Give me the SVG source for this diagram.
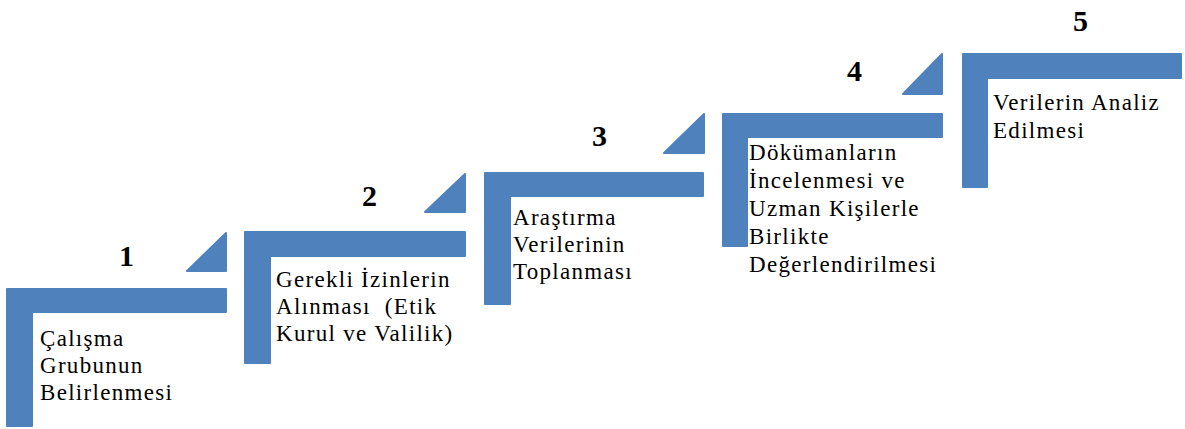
<svg xmlns="http://www.w3.org/2000/svg" width="1185" height="429" viewBox="0 0 1185 429">
<style>
.shape{fill:#4F81BD;stroke:#4F81BD;stroke-width:2;stroke-linejoin:round}
text{font-family:'Liberation Serif','Times New Roman',serif;fill:#000}
.num{font-weight:bold;font-size:30px;text-anchor:middle;letter-spacing:1px}
.lbl{font-size:23px;white-space:pre;letter-spacing:1.3px}
</style>
<rect width="1185" height="429" fill="#fff"/>
<g id="step1">
<path class="shape" d="M7,289 H226 V312 H32 V426 H7 Z"/>
<path class="shape" d="M187,271 L226,233 V271 Z"/>
<text class="num" x="127" y="266">1</text>
<text class="lbl"><tspan x="40" y="346">Çalışma</tspan><tspan x="40" y="373">Grubunun</tspan><tspan x="40" y="400">Belirlenmesi</tspan></text>
</g>
<g id="step2">
<path class="shape" d="M245,232 H465 V256 H270 V363 H245 Z"/>
<path class="shape" d="M425,212 L465,174 V212 Z"/>
<text class="num" x="370" y="206">2</text>
<text class="lbl"><tspan x="276" y="287">Gerekli İzinlerin</tspan><tspan x="276" y="314">Alınması  (Etik</tspan><tspan x="276" y="341">Kurul ve Valilik)</tspan></text>
</g>
<g id="step3">
<path class="shape" d="M485,173 H703 V196 H510 V304 H485 Z"/>
<path class="shape" d="M664,153 L704,114 V153 Z"/>
<text class="num" x="600" y="146">3</text>
<text class="lbl"><tspan x="513" y="225">Araştırma</tspan><tspan x="513" y="252">Verilerinin</tspan><tspan x="513" y="279">Toplanması</tspan></text>
</g>
<g id="step4">
<path class="shape" d="M723,114 H942 V137 H747 V246 H723 Z"/>
<path class="shape" d="M903,94 L942,54 V94 Z"/>
<text class="num" x="855" y="81">4</text>
<text class="lbl"><tspan x="749" y="160">Dökümanların</tspan><tspan x="749" y="188">İncelenmesi ve</tspan><tspan x="749" y="216">Uzman Kişilerle</tspan><tspan x="749" y="244">Birlikte</tspan><tspan x="749" y="272">Değerlendirilmesi</tspan></text>
</g>
<g id="step5">
<path class="shape" d="M963,54 H1181 V78 H987 V187 H963 Z"/>
<text class="num" x="1081" y="31">5</text>
<text class="lbl"><tspan x="993" y="110">Verilerin Analiz</tspan><tspan x="993" y="138">Edilmesi</tspan></text>
</g>
<g id="connectors"></g>
</svg>
